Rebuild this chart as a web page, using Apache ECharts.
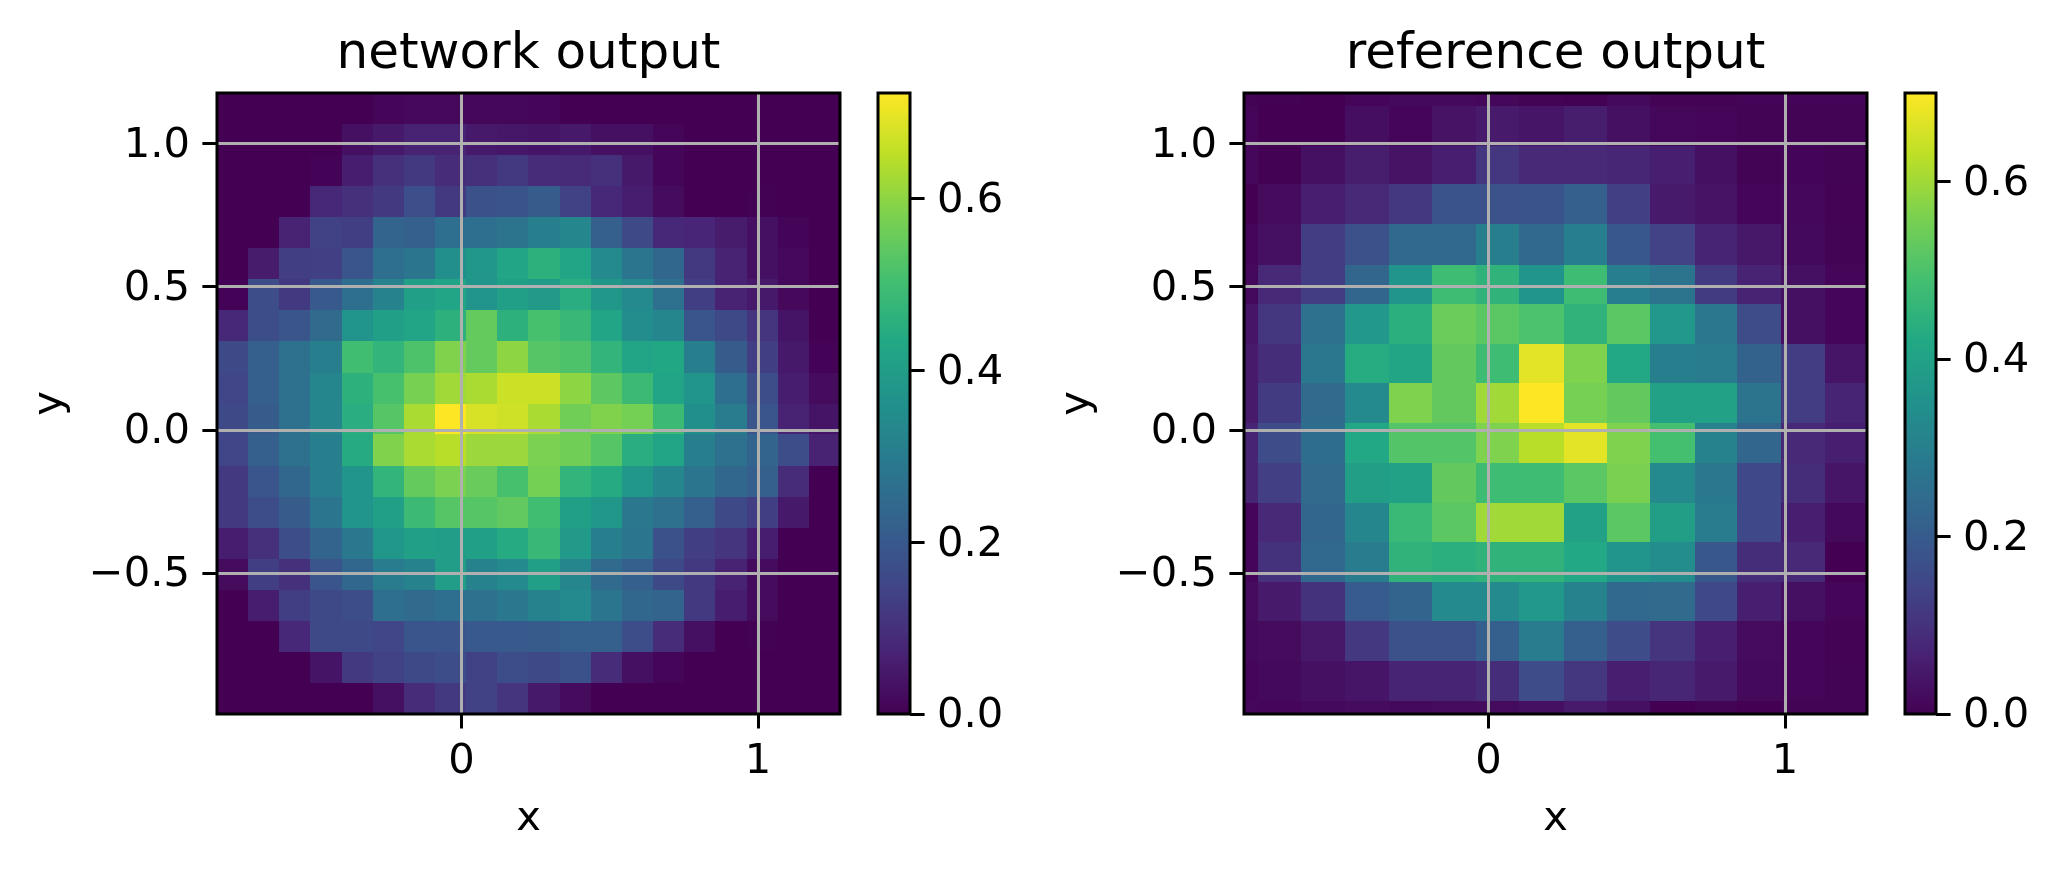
<!DOCTYPE html>
<html><head><meta charset="utf-8">
<style>html,body{margin:0;padding:0;background:#fff}#c{width:2061px;height:870px}</style>
<script src="https://cdn.jsdelivr.net/npm/echarts@6/dist/echarts.min.js"></script>
</head><body><div id="c"></div>
<script>
const titles = ['network output', 'reference output'];
const viridis = ['#440154','#482475','#414487','#355f8d','#2a788e','#21918c','#22a884','#44bf70','#7ad151','#bddf26','#fde725'];
const xRange = [-0.824, 1.276];
const yRange = [-0.992, 1.176];
const xTicks = [0, 1];
const yTicks = [-0.5, 0, 0.5, 1];
const cbTicks = [0, 0.2, 0.4, 0.6];
const networkMax = 0.723;
const referenceMax = 0.70;
const networkXEdges = [-.824,-.719,-.614,-.509,-.404,-.299,-.194,-.089,.016,.121,.226,.331,.436,.541,.646,.751,.856,.961,1.066,1.171,1.276];
const networkYEdges = [1.176,1.068,.959,.851,.742,.634,.526,.417,.309,.2,.092,-.016,-.125,-.233,-.342,-.45,-.558,-.667,-.775,-.884,-.992];
const referenceXEdges = [-.924,-.777,-.631,-.483,-.335,-.19,-.041,.104,.253,.401,.545,.695,.839,.987,1.136,1.284];
const referenceYEdges = [1.271,1.132,.991,.857,.718,.576,.441,.301,.162,.025,-.115,-.254,-.391,-.531,-.666,-.806,-.946,-1.085];
const networkOutput = [
[0,0,0,0,0,.01,.015,.015,.012,.012,.01,0,0,0,0,0,0,0,0,0],
[0,0,0,0,.03,.05,.07,.07,.05,.045,.04,.05,.03,.03,.01,0,0,0,0,0],
[0,0,0,.005,.06,.10,.12,.09,.10,.12,.09,.085,.10,.05,.01,0,0,0,0,0],
[0,0,0,.08,.10,.12,.175,.12,.18,.185,.21,.14,.08,.06,.02,0,0,.003,0,0],
[0,0,.07,.14,.13,.23,.22,.26,.26,.275,.31,.33,.22,.16,.08,.075,.055,.03,.008,0],
[0,.055,.13,.135,.19,.26,.28,.355,.38,.42,.46,.42,.34,.28,.24,.12,.07,.03,.015,0],
[.005,.17,.12,.2,.26,.32,.41,.42,.37,.41,.39,.45,.38,.34,.27,.13,.07,.05,.015,0],
[.08,.17,.19,.25,.37,.41,.42,.46,.55,.46,.51,.48,.42,.35,.33,.19,.16,.11,.04,0],
[.16,.22,.27,.31,.50,.47,.52,.585,.55,.60,.53,.52,.47,.42,.43,.31,.21,.13,.05,.005],
[.15,.22,.27,.33,.46,.51,.575,.62,.63,.665,.665,.60,.54,.49,.42,.37,.26,.17,.06,.02],
[.16,.21,.27,.33,.45,.53,.63,.723,.68,.67,.63,.565,.585,.57,.49,.36,.30,.19,.07,.04],
[.15,.22,.27,.31,.44,.585,.63,.645,.615,.615,.58,.565,.53,.45,.42,.31,.27,.23,.17,.07],
[.12,.19,.24,.31,.37,.47,.55,.58,.555,.51,.57,.47,.44,.38,.33,.28,.24,.22,.09,0],
[.12,.17,.21,.28,.37,.41,.49,.53,.53,.545,.50,.41,.38,.29,.27,.22,.16,.13,.05,0],
[.06,.10,.17,.23,.29,.38,.41,.40,.41,.44,.48,.39,.31,.28,.18,.13,.11,.06,0,0],
[.02,.13,.10,.19,.24,.30,.32,.40,.32,.34,.41,.33,.25,.22,.16,.12,.07,.02,0,0],
[0,.06,.13,.16,.17,.26,.25,.26,.27,.29,.32,.34,.28,.24,.23,.12,.06,.02,0,0],
[0,0,.08,.16,.16,.15,.19,.19,.20,.20,.21,.22,.22,.17,.09,.03,0,.002,0,0],
[0,0,0,.04,.12,.14,.16,.17,.14,.17,.16,.18,.09,.03,.01,0,0,0,0,0],
[0,0,0,0,0,.03,.09,.12,.14,.11,.05,.02,0,0,0,0,0,0,0,0]
];
const referenceOutput = [
[.005,.002,0,.01,.015,.015,.012,.005,.002,.015,.003,.003,.006,.008,.008],
[.01,0,0,.025,.01,.035,.05,.04,.055,.03,.012,.01,.005,.005,.005],
[.012,.002,.03,.055,.035,.06,.11,.08,.08,.075,.06,.03,.005,.008,.005],
[0,.02,.06,.08,.115,.18,.175,.18,.21,.13,.05,.035,.01,.012,.003],
[.01,.03,.125,.17,.235,.235,.30,.235,.30,.19,.135,.07,.045,.015,.005],
[.015,.08,.125,.23,.36,.48,.45,.36,.48,.30,.27,.12,.065,.03,.01],
[.04,.11,.26,.37,.44,.54,.52,.50,.45,.52,.37,.28,.16,.03,.01],
[.05,.09,.28,.43,.41,.53,.48,.67,.565,.42,.30,.29,.22,.125,.04],
[.05,.12,.24,.33,.565,.53,.60,.70,.555,.53,.40,.40,.27,.125,.07],
[.07,.16,.25,.42,.51,.51,.565,.625,.67,.565,.49,.31,.23,.08,.06],
[.07,.13,.24,.39,.40,.53,.48,.48,.52,.56,.33,.28,.15,.09,.04],
[.01,.08,.23,.32,.47,.52,.60,.60,.40,.52,.39,.29,.15,.06,.015],
[.01,.10,.235,.29,.45,.44,.45,.45,.42,.36,.34,.19,.09,.08,0],
[.02,.05,.10,.20,.225,.33,.33,.37,.31,.235,.24,.15,.06,.03,.01],
[.015,.02,.045,.115,.17,.17,.21,.29,.21,.16,.105,.06,.02,.01,.003],
[.01,.015,.03,.04,.07,.07,.09,.16,.11,.06,.075,.05,.015,.01,.005],
[.012,.01,.015,.02,.015,.02,.02,.03,.05,.03,0,.005,0,.005,.005]
];

function cells(values, xe, ye){
  const out = [];
  values.forEach((row, r) => row.forEach((v, c) => out.push([xe[c], xe[c+1], ye[r+1], ye[r], v])));
  return out;
}
function renderCell(params, api){
  const a = api.coord([api.value(0), api.value(3)]);
  const b = api.coord([api.value(1), api.value(2)]);
  const x0 = Math.round(a[0]), y0 = Math.round(a[1]), x1 = Math.round(b[0]), y1 = Math.round(b[1]);
  return {type:'rect', shape:{x:x0, y:y0, width:x1-x0, height:y1-y0}, style:{fill:api.visual('color'), stroke:null}};
}
const FONT = 'DejaVu Sans';
const FS = 41.67;
const LW = 3;
const fmt1 = v => v.toFixed(1).replace('-', '\u2212');
const panels = [
  {plotL:217, plotR:840, cbL:878, cbR:910, data:cells(networkOutput, networkXEdges, networkYEdges), max:networkMax, title:titles[0]},
  {plotL:1244, plotR:1867, cbL:1905, cbR:1936, data:cells(referenceOutput, referenceXEdges, referenceYEdges), max:referenceMax, title:titles[1]}
];
const W = 2061, H = 870, TOP = 93, BOT = 714;
const tickStyle = {show:true, length:14.6, lineStyle:{color:'#000', width:LW}};
const hiddenLine = {show:false, onZero:false};
const grid = [], xAxis = [], yAxis = [], series = [], visualMap = [], title = [];
panels.forEach((p, i) => {
  grid.push({left:p.plotL, width:p.plotR-p.plotL, top:TOP, height:BOT-TOP, show:true, backgroundColor:'transparent', borderColor:'#000', borderWidth:LW, z:6});
  grid.push({left:p.cbL, width:p.cbR-p.cbL, top:TOP, height:BOT-TOP, show:true, backgroundColor:'transparent', borderColor:'#000', borderWidth:LW, z:6});
  const gi = grid.length - 2;
  xAxis.push({type:'value', gridIndex:gi, min:xRange[0], max:xRange[1], position:'bottom', name:'x', nameLocation:'middle', nameGap:84,
    nameTextStyle:{fontFamily:FONT, fontSize:FS, color:'#000'},
    axisLine:hiddenLine, axisTick:Object.assign({customValues:xTicks}, tickStyle),
    axisLabel:{customValues:xTicks, formatter:v=>String(v), fontFamily:FONT, fontSize:FS, color:'#000', margin:27},
    splitLine:{show:true, lineStyle:{color:'#b0b0b0', width:LW}}, z:5});
  yAxis.push({type:'value', gridIndex:gi, min:yRange[0], max:yRange[1], position:'left', name:'y', nameLocation:'middle', nameGap:146,
    nameTextStyle:{fontFamily:FONT, fontSize:FS, color:'#000'},
    axisLine:hiddenLine, axisTick:Object.assign({customValues:yTicks}, tickStyle),
    axisLabel:{customValues:yTicks, formatter:fmt1, fontFamily:FONT, fontSize:FS, color:'#000', margin:27, verticalAlign:'top', lineHeight:5},
    splitLine:{show:true, lineStyle:{color:'#b0b0b0', width:LW}}, z:5});
  xAxis.push({type:'value', gridIndex:gi+1, min:0, max:1, show:false});
  yAxis.push({type:'value', gridIndex:gi+1, position:'right', min:0, max:p.max,
    axisLine:hiddenLine, axisTick:Object.assign({customValues:cbTicks}, tickStyle),
    axisLabel:{customValues:cbTicks, formatter:fmt1, fontFamily:FONT, fontSize:FS, color:'#000', margin:27, verticalAlign:'top', lineHeight:5},
    splitLine:{show:false}, z:7});
  series.push({type:'custom', coordinateSystem:'cartesian2d', xAxisIndex:gi, yAxisIndex:gi, clip:true, z:1,
    encode:{x:[0,1], y:[2,3]}, dimensions:['x0','x1','y0','y1','v'], data:p.data, renderItem:renderCell, silent:true, animation:false});
  visualMap.push({type:'continuous', seriesIndex:i, dimension:4, min:0, max:p.max, calculable:false, realtime:false, hoverLink:false,
    inRange:{color:viridis}, left:p.cbL, top:TOP, itemWidth:p.cbR-p.cbL, itemHeight:BOT-TOP, padding:0, text:null, orient:'vertical', z:1});
  title.push({text:p.title, left:(p.plotL+p.plotR)/2, top:30, padding:0, textAlign:'center', textStyle:{fontFamily:FONT, fontSize:50, fontWeight:'normal', color:'#000'}});
});
const chart = echarts.init(document.getElementById('c'), null, {renderer:'canvas', width:W, height:H});
chart.setOption({animation:false, backgroundColor:'#fff', title, grid, xAxis, yAxis, series, visualMap});
</script></body></html>
